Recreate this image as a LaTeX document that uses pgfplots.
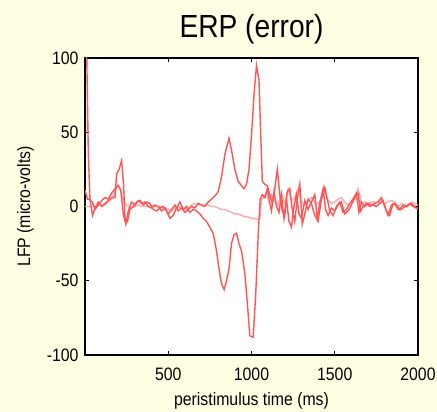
\documentclass[border=0pt]{standalone}
\usepackage{pgfplots}
\pgfplotsset{compat=1.18}
\usepackage{fontspec}
\setmainfont{Liberation Sans}[FakeStretch=0.88]
\definecolor{bg}{RGB}{255,255,228}
\definecolor{redl}{RGB}{255,85,85}
\definecolor{pinkl}{RGB}{255,170,170}
\begin{document}
\begin{tikzpicture}[x=1pt,y=1pt]
\fill[bg] (-85,-57) rectangle (352,355);
\useasboundingbox (-85,-57) rectangle (352,355);
\begin{axis}[
  at={(0,0)}, anchor=south west,
  scale only axis, width=333pt, height=297pt,
  xmin=0, xmax=2000, ymin=-100, ymax=100,
  xtick={500,1000,1500,2000}, ytick={-100,-50,0,50,100},
  tick align=inside, major tick length=4pt,
  tick style={black, line width=0.8pt},
  axis line style={black, line width=1.2pt},
  axis background/.style={fill=white},
  /pgf/number format/assume math mode=true,
  /pgf/number format/1000 sep={},
  ticklabel style={font=\fontsize{18}{18}\selectfont},
  xticklabel style={yshift=-9pt},
  yticklabel style={xshift=-3pt},
  title={ERP (error)},
  title style={font=\fontsize{32}{32}\selectfont, yshift=4pt},
  xlabel={peristimulus time (ms)},
  ylabel={LFP (micro-volts)},
  label style={font=\fontsize{18}{18}\selectfont},
  xlabel style={yshift=-5pt},
  ylabel style={yshift=6pt},
  clip=true,
]
\addplot[pinkl, line width=1.4pt] coordinates {
(0,0)(20,0)(40,0)(60,0)(80,1)(100,1)(120,1)(140,3)(160,5)(180,10)(195,15)(210,12)(225,6)(240,2)(260,0)(280,-1)(300,0)(320,1)(340,0)(360,0)(380,0)(400,1)(420,0)(440,0)(460,0)(480,-1)(500,-2)(520,-3)(540,-1)(560,0)(580,-1)(600,-2)(620,-1)(640,1)(660,2)(680,2)(700,1)(720,1)(740,1)(760,0)(780,0)(800,-1)(820,-2)(840,-2)(860,-3)(880,-4)(900,-5)(920,-5)(940,-6)(960,-7)(980,-7)(1000,-8)(1020,-8)(1040,-9)(1050,-8)(1060,5)(1075,6)(1090,10)(1105,3)(1120,8)(1140,4)(1160,1)(1180,9)(1200,2)(1220,12)(1240,4)(1260,6)(1280,12)(1300,3)(1320,1)(1340,4)(1360,6)(1380,3)(1400,2)(1420,5)(1440,10)(1460,4)(1480,2)(1500,3)(1520,5)(1540,6)(1560,3)(1580,1)(1600,3)(1620,5)(1640,12)(1660,2)(1680,3)(1700,2)(1720,3)(1740,3)(1760,3)(1780,4)(1800,2)(1820,3)(1840,4)(1860,3)(1880,0)(1900,2)(1920,1)(1940,0)(1960,3)(1980,2)(2000,1)
};
\addplot[redl, line width=1.4pt] coordinates {
(10,105)(20,35)(30,4)(45,3)(60,-2)(80,1)(100,4)(120,6)(140,5)(160,9)(180,12)(200,14)(215,11)(230,-5)(245,-12)(260,-3)(280,3)(300,1)(320,4)(340,2)(360,3)(380,0)(400,-1)(420,1)(440,0)(460,-3)(480,-1)(500,-5)(520,-2)(540,1)(560,-3)(580,-1)(600,-4)(620,-2)(640,0)(660,-1)(680,2)(700,1)(720,0)(740,3)(760,5)(780,7)(800,10)(820,20)(840,35)(865,46)(880,38)(900,25)(920,17)(940,14)(955,12)(970,15)(985,25)(1000,48)(1015,75)(1030,95)(1045,85)(1055,50)(1065,17)(1080,15)(1095,14)(1110,8)(1125,2)(1140,12)(1155,25)(1170,8)(1185,-3)(1200,-6)(1215,10)(1230,12)(1245,-2)(1260,-10)(1275,5)(1290,15)(1305,-12)(1320,-5)(1340,5)(1360,2)(1380,-6)(1400,-10)(1420,5)(1440,13)(1455,5)(1470,-3)(1490,-6)(1510,0)(1530,3)(1550,-4)(1570,-2)(1590,2)(1610,5)(1630,9)(1645,-4)(1660,3)(1680,0)(1700,2)(1720,1)(1740,2)(1760,3)(1780,6)(1800,0)(1820,-6)(1840,1)(1860,2)(1880,-2)(1900,-2)(1920,0)(1940,1)(1960,2)(1980,0)(2000,-2)
};
\addplot[redl, line width=1.4pt] coordinates {
(0,11)(15,5)(30,5)(45,-6)(60,-1)(80,3)(100,0)(120,2)(140,4)(160,6)(180,6)(190,22)(205,25)(220,31)(232,14)(240,-8)(255,-10)(270,-2)(290,0)(310,3)(330,4)(350,1)(370,3)(390,2)(410,-2)(430,-3)(450,-1)(470,0)(490,-3)(510,-8)(530,-6)(550,-1)(570,3)(590,-2)(610,0)(630,-4)(650,-2)(670,-3)(690,-5)(710,-8)(730,-10)(750,-14)(770,-18)(790,-30)(805,-42)(820,-52)(836,-56)(850,-50)(865,-42)(880,-25)(895,-19)(910,-18)(925,-25)(940,-30)(960,-45)(975,-65)(990,-87)(1010,-88)(1025,-60)(1040,-20)(1052,5)(1065,8)(1080,6)(1095,12)(1110,2)(1120,-3)(1135,10)(1150,0)(1165,-4)(1180,8)(1195,-8)(1210,5)(1225,-10)(1240,-14)(1255,0)(1270,8)(1285,-5)(1300,-8)(1320,4)(1340,-2)(1360,3)(1380,8)(1395,-8)(1410,2)(1430,12)(1445,-2)(1460,-6)(1480,-1)(1500,-3)(1520,1)(1540,3)(1560,-5)(1580,-3)(1600,1)(1620,6)(1640,9)(1655,-3)(1670,0)(1690,2)(1710,0)(1730,1)(1750,0)(1770,2)(1790,4)(1810,-3)(1830,-6)(1850,2)(1870,1)(1890,-2)(1910,1)(1930,0)(1950,2)(1970,0)(1990,-1)(2000,-1)
};
\end{axis}
\end{tikzpicture}
\end{document}
